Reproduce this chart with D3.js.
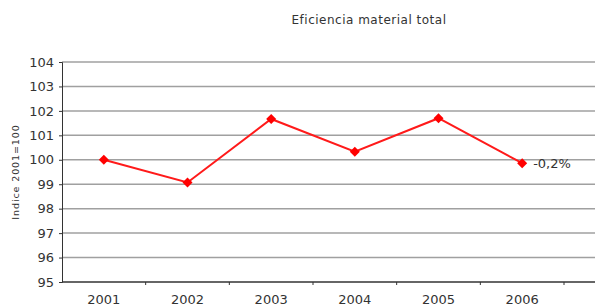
<!DOCTYPE html>
<html>
<head>
<meta charset="utf-8">
<script src="https://cdn.jsdelivr.net/npm/d3@7"></script>
<style>
  body { margin: 0; background: #fff; }
  text { font-family: "DejaVu Sans", Verdana, sans-serif; fill: #333; }
</style>
</head>
<body>
<svg id="chart" width="595" height="306"></svg>
<script>
// data
let years = ["2001", "2002", "2003", "2004", "2005", "2006"];
let values = [100, 99.07, 101.67, 100.33, 101.7, 99.86];
let yTicks = [95, 96, 97, 98, 99, 100, 101, 102, 103, 104];
let lastLabel = "-0,2%";

let svg = d3.select("#chart");
let plotLeft = 62, plotRight = 564, plotTop = 62, plotBottom = 282;

let x = d3.scaleBand().domain(years).range([plotLeft, plotRight]);
let y = d3.scaleLinear().domain([95, 104]).range([plotBottom, plotTop]);

// title
svg.append("text")
    .attr("x", 369).attr("y", 24)
    .attr("text-anchor", "middle")
    .style("font-size", "12px")
    .style("letter-spacing", "0.5px")
    .text("Eficiencia material total");

// gridlines
svg.append("g")
    .selectAll("line")
    .data(yTicks.slice(1))
    .enter()
    .append("line")
    .attr("x1", plotLeft).attr("x2", 595)
    .attr("y1", d => y(d)).attr("y2", d => y(d))
    .attr("stroke", "#a0a0a0")
    .attr("stroke-width", 1.5);

// y axis
let yAxis = svg.append("g")
    .attr("transform", "translate(" + plotLeft + ",0)")
    .call(d3.axisLeft(y).tickValues(yTicks).tickSize(3).tickPadding(5));
yAxis.selectAll("text").style("font-size", "13px").attr("fill", "#333");
yAxis.selectAll("line, path").attr("stroke", "#333");

// x axis, ticks at category boundaries
let xAxis = svg.append("g")
    .attr("transform", "translate(0," + plotBottom + ")");
xAxis.append("line")
    .attr("x1", plotLeft).attr("x2", 595)
    .attr("stroke", "#333").attr("stroke-width", 1.3);
xAxis.selectAll("line.tk")
    .data(years)
    .enter()
    .append("line")
    .attr("class", "tk")
    .attr("x1", d => x(d) + x.bandwidth()).attr("x2", d => x(d) + x.bandwidth())
    .attr("y1", 0).attr("y2", 3)
    .attr("stroke", "#333");
xAxis.selectAll("text")
    .data(years)
    .enter()
    .append("text")
    .attr("x", d => x(d) + x.bandwidth() / 2)
    .attr("y", 22)
    .attr("text-anchor", "middle")
    .style("font-size", "13px")
    .text(d => d);

// y label
svg.append("text")
    .attr("transform", "translate(19,172) rotate(-90)")
    .attr("text-anchor", "middle")
    .style("font-size", "9.5px")
    .style("letter-spacing", "0.9px")
    .text("Indice 2001=100");

// line
let cx = (d, i) => x(years[i]) + x.bandwidth() / 2;
let line = d3.line().x(cx).y(d => y(d));
svg.append("path")
    .datum(values)
    .attr("d", line)
    .attr("fill", "none")
    .attr("stroke", "#ff1a1a")
    .attr("stroke-width", 2);

svg.append("g")
    .selectAll("path")
    .data(values)
    .enter()
    .append("path")
    .attr("d", d3.symbol().type(d3.symbolDiamond2).size(64))
    .attr("transform", (d, i) => "translate(" + cx(d, i) + "," + y(d) + ")")
    .attr("fill", "#ff0000");

// end label
svg.append("text")
    .attr("x", cx(values[5], 5) + 11)
    .attr("y", y(values[5]) + 5)
    .style("font-size", "13px")
    .text(lastLabel);
</script>
</body>
</html>
